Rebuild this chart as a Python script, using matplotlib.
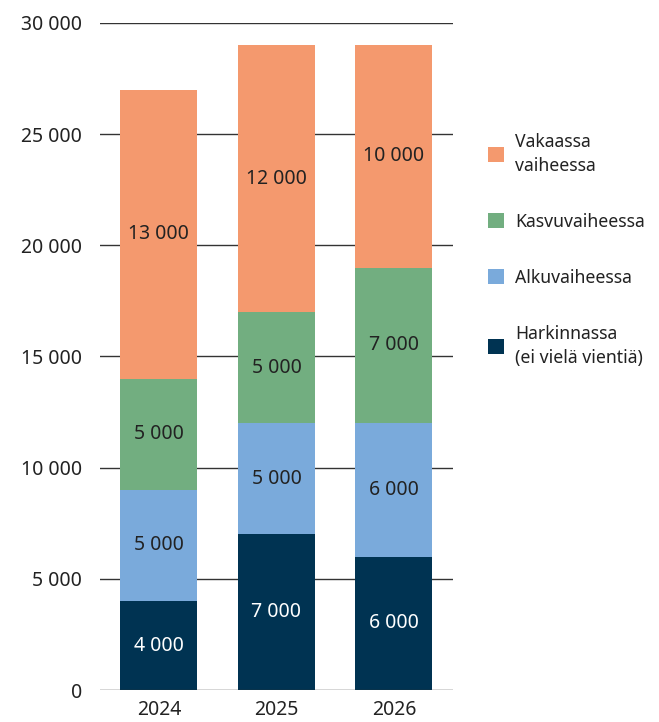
import matplotlib.pyplot as plt
import numpy as np

plt.rcParams['font.family'] = ['Noto Sans', 'DejaVu Sans']

years = ['2024', '2025', '2026']
harkinnassa = [4000, 7000, 6000]
alkuvaiheessa = [5000, 5000, 6000]
kasvuvaiheessa = [5000, 5000, 7000]
vakaassa = [13000, 12000, 10000]

series = [
    ('Harkinnassa\n(ei vielä vientiä)', harkinnassa, '#003352', 'white'),
    ('Alkuvaiheessa', alkuvaiheessa, '#7aaadb', '#222222'),
    ('Kasvuvaiheessa', kasvuvaiheessa, '#72ae80', '#222222'),
    ('Vakaassa\nvaiheessa', vakaassa, '#f4996e', '#222222'),
]

def fmt(v):
    return f'{int(v):,}'.replace(',', ' ')

fig = plt.figure(figsize=(6.59, 7.22), dpi=100)
ax = fig.add_axes([0.152, 0.0443, 0.535, 0.924])

x = np.arange(len(years))
bottom = np.zeros(len(years))
handles = []
for name, vals, col, tcol in series:
    vals = np.array(vals, dtype=float)
    b = ax.bar(x, vals, 0.655, bottom=bottom, color=col, label=name, zorder=3)
    handles.append(b)
    for xi, v, bt in zip(x, vals, bottom):
        ax.text(xi, bt + v / 2, fmt(v), ha='center', va='center',
                color=tcol, fontsize=14, zorder=4)
    bottom += vals

ax.set_xlim(-0.5, 2.5)
ax.set_ylim(0, 30000)
ticks = np.arange(0, 30001, 5000)
ax.set_yticks(ticks)
ax.set_yticklabels([fmt(t) for t in ticks])
ax.set_xticks(x)
ax.set_xticklabels(years)
for t in ticks:
    ax.axhline(t, color='#333333', lw=1.0, zorder=1 if t else 5)
for s in ax.spines.values():
    s.set_visible(False)
ax.tick_params(axis='y', length=0, pad=13, labelsize=14, labelcolor='#222222')
ax.tick_params(axis='x', length=0, pad=7, labelsize=14, labelcolor='#222222')

leg = fig.legend(handles[::-1], [s[0] for s in series][::-1],
                 loc='center left', bbox_to_anchor=(0.716, 0.654),
                 frameon=False, fontsize=12.7, handlelength=0.95, handleheight=0.95,
                 handletextpad=0.6, labelspacing=2.15, labelcolor='#222222')
for t in leg.get_texts():
    t.set_linespacing(1.45)

fig.savefig('out.png', dpi=100)
